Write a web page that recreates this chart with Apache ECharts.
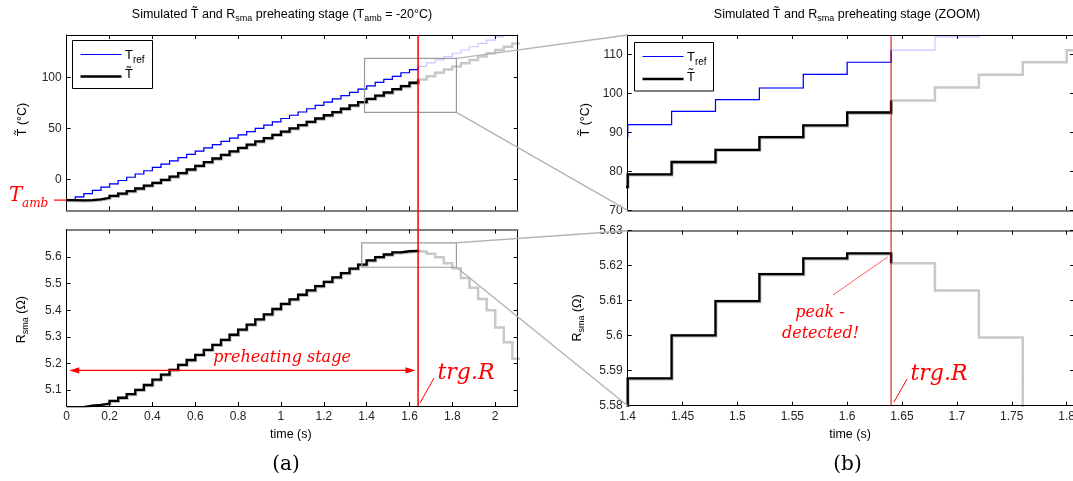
<!DOCTYPE html>
<html><head><meta charset="utf-8">
<script src="https://cdn.jsdelivr.net/npm/echarts@6/dist/echarts.min.js"></script>
<style>html,body{margin:0;padding:0;background:#fff}#c{width:1073px;height:481px}</style>
</head><body><div id="c"></div>
<script>
// ---- data (sample times in s, one sample every 40 ms) ----
const timeS = [0,0.04,0.08,0.12,0.16,0.2,0.24,0.28,0.32,0.36,0.4,0.44,0.48,0.52,0.56,0.6,0.64,0.68,0.72,0.76,0.8,0.84,0.88,0.92,0.96,1,1.04,1.08,1.12,1.16,1.2,1.24,1.28,1.32,1.36,1.4,1.44,1.48,1.52,1.56,1.6,1.64,1.68,1.72,1.76,1.8,1.84,1.88,1.92,1.96,2,2.04,2.08,2.12];
const tRef = [-20,-16.8,-13.6,-10.4,-7.2,-4,-0.8,2.4,5.6,8.8,12,15.2,18.4,21.6,24.8,28,31.2,34.4,37.6,40.8,44,47.2,50.4,53.6,56.8,60,63.2,66.4,69.6,72.8,76,79.2,82.4,85.6,88.8,92,95.4,98.4,101.4,104.9,108,111.1,114.5,117.6,120.8,124,127.2,130.4,133.6,136.8,140,143.2,146.4,146.4];
const tEst = [-20,-20.3,-20,-19.2,-17.8,-15.8,-13.6,-11.2,-8.6,-5.9,-3.1,-0.1,3.1,6.5,10,13.6,17.2,20.8,24.3,27.8,31.2,34.4,37.6,40.8,44,47.2,50.4,53.6,56.8,60,63.2,66.3,69.6,72.8,76,79.2,82.4,85.5,88.8,91.8,95.1,98.2,101.5,104.8,108,111.1,114.3,117.5,120.7,123.9,127.1,130.3,133.5,133.5];
const rSma = [5.034,5.036,5.041,5.044,5.049,5.059,5.071,5.085,5.101,5.119,5.139,5.158,5.176,5.195,5.213,5.232,5.251,5.27,5.289,5.308,5.327,5.346,5.366,5.385,5.405,5.424,5.4415,5.4585,5.475,5.491,5.507,5.524,5.54,5.557,5.572,5.5878,5.6001,5.6099,5.6176,5.6221,5.6235,5.6207,5.6129,5.5995,5.577,5.558,5.522,5.485,5.443,5.4,5.335,5.28,5.218,5.218];
const trigIndex = 41;       // sample at the trigger (peak detected)
const trigTime = 1.64;
const xTicksA = [0,0.2,0.4,0.6,0.8,1,1.2,1.4,1.6,1.8,2];
const yTicksA1 = [0,50,100];
const yTicksA2 = [5.1,5.2,5.3,5.4,5.5,5.6];
const xTicksB = [1.4,1.45,1.5,1.55,1.6,1.65,1.7,1.75,1.8];
const yTicksB1 = [70,80,90,100,110];
const yTicksB2 = [5.58,5.59,5.6,5.61,5.62,5.63];

// ---- chart ----
const chart = echarts.init(document.getElementById('c'), null, {renderer:'canvas'});
const SANS = '"Liberation Sans", Arial, Helvetica, sans-serif';
const SERIF = '"DejaVu Serif", serif';
const fmt = v => String(Math.round(v * 1000) / 1000);

function pairs(vals, count) {
  const out = [], n = count == null ? vals.length : count;
  for (let i = 0; i < n; i++) out.push([timeS[i], vals[i]]);
  return out;
}
function line(xi, yi, data, color, width, z, shadow) {
  const ls = {color, width, cap:'butt', join:'miter'};
  if (shadow) Object.assign(ls, {shadowColor:'#bdbdbd', shadowBlur:0, shadowOffsetX:0.8, shadowOffsetY:1});
  return {type:'line', xAxisIndex:xi, yAxisIndex:yi, data, step:'end', showSymbol:false, symbol:'none',
    silent:true, animation:false, clip:true, z, emphasis:{disabled:true}, lineStyle:ls};
}
function axis(grid, min, max, ticks, pos, labels, color, width) {
  return {type:'value', gridIndex:grid, min, max, position:pos, z:10,
    axisLine:{show:true, onZero:false, lineStyle:{color, width}},
    axisTick:{show:true, inside:true, length:4, customValues:ticks, lineStyle:{color:'#000', width:1}},
    axisLabel:{show:labels, customValues:ticks, formatter:fmt, margin:5, interval:0,
      fontFamily:SANS, fontSize:12, color:'#262626'},
    splitLine:{show:false}};
}
const G = '#7f7f7f';
const rA = [0, 2.105], rA1 = [-30, 141.9], rA2 = [5.04, 5.704];
const rB = [1.4, 1.8067], rB1 = [70, 115], rB2 = [5.58, 5.63];

const option = {
  animation:false,
  backgroundColor:'#fff',
  grid:[
    {left:66.7, top:35, width:451, height:175.3, containLabel:false, outerBoundsMode:'none'},
    {left:66.7, top:229.5, width:451, height:176.5, containLabel:false, outerBoundsMode:'none'},
    {left:627.7, top:35, width:446.3, height:175.3, containLabel:false, outerBoundsMode:'none'},
    {left:627.7, top:230.7, width:446.3, height:175, containLabel:false, outerBoundsMode:'none'}
  ],
  xAxis:[
    axis(0, rA[0], rA[1], xTicksA, 'bottom', false, G, 2),
    axis(0, rA[0], rA[1], xTicksA, 'top', false, '#000', 1),
    axis(1, rA[0], rA[1], xTicksA, 'bottom', true, '#000', 1),
    axis(1, rA[0], rA[1], xTicksA, 'top', false, G, 2),
    axis(2, rB[0], rB[1], xTicksB, 'bottom', false, G, 2),
    axis(2, rB[0], rB[1], xTicksB, 'top', false, '#000', 1),
    axis(3, rB[0], rB[1], xTicksB, 'bottom', true, '#000', 1),
    axis(3, rB[0], rB[1], xTicksB, 'top', false, G, 2)
  ],
  yAxis:[
    axis(0, rA1[0], rA1[1], yTicksA1, 'left', true, '#000', 1),
    axis(0, rA1[0], rA1[1], yTicksA1, 'right', false, '#000', 1),
    axis(1, rA2[0], rA2[1], yTicksA2, 'left', true, '#000', 1),
    axis(1, rA2[0], rA2[1], yTicksA2, 'right', false, '#000', 1),
    axis(2, rB1[0], rB1[1], yTicksB1, 'left', true, '#000', 1),
    axis(2, rB1[0], rB1[1], yTicksB1, 'right', false, '#000', 1),
    axis(3, rB2[0], rB2[1], yTicksB2, 'left', true, '#000', 1),
    axis(3, rB2[0], rB2[1], yTicksB2, 'right', false, '#000', 1)
  ],
  series:[]
};
const upto = trigIndex + 1;
[[0,0],[4,4]].forEach(([xi, yi]) => {
  option.series.push(line(xi, yi, pairs(tRef), '#c8c8ff', 1.2, 2));
  option.series.push(line(xi, yi, pairs(tEst), '#c8c8c8', 2.5, 3));
  option.series.push(line(xi, yi, pairs(tRef, upto), '#0000ff', 1.2, 4));
  option.series.push(line(xi, yi, pairs(tEst, upto), '#000000', 2.3, 5, true));
});
[[2,2],[6,6]].forEach(([xi, yi]) => {
  option.series.push(line(xi, yi, pairs(rSma), '#c8c8c8', 2.5, 3));
  option.series.push(line(xi, yi, pairs(rSma, upto), '#000000', 2.3, 5, true));
});
chart.setOption(option);

// ---- annotations ----
const P = (i, pt) => chart.convertToPixel({xAxisIndex:i, yAxisIndex:i}, pt);
const els = [];
const seg = (a, b, stroke, w, z) => els.push({type:'line', silent:true, z:z || 50,
  shape:{x1:a[0], y1:a[1], x2:b[0], y2:b[1]}, style:{stroke, lineWidth:w}});
const txt = (x, y, text, style, extra) => els.push(Object.assign({type:'text', x, y, z:100, silent:true,
  style:Object.assign({text, fill:'#000', align:'center', verticalAlign:'middle'}, style)}, extra || {}));

// zoom boxes and connectors
const bt1 = P(0, [1.39, 119]), bb1 = P(0, [1.819, 66.1]);
els.push({type:'rect', silent:true, z:40, shape:{x:bt1[0], y:bt1[1], width:bb1[0]-bt1[0], height:bb1[1]-bt1[1]},
  style:{fill:'none', stroke:'#9a9a9a', lineWidth:1.2}});
seg([bb1[0], bt1[1]], P(4, [rB[0], rB1[1]]), '#b4b4b4', 1.4, 40);
seg([bb1[0], bb1[1]], P(4, [rB[0], rB1[0]]), '#b4b4b4', 1.4, 40);
const bt2 = P(2, [1.377, 5.654]), bb2 = P(2, [1.819, 5.562]);
els.push({type:'rect', silent:true, z:40, shape:{x:bt2[0], y:bt2[1], width:bb2[0]-bt2[0], height:bb2[1]-bt2[1]},
  style:{fill:'none', stroke:'#9a9a9a', lineWidth:1.2}});
seg([bb2[0], bt2[1]], P(6, [rB[0], rB2[1]]), '#b4b4b4', 1.4, 40);
seg([bb2[0], bb2[1]], P(6, [rB[0], rB2[0]]), '#b4b4b4', 1.4, 40);

// trigger lines
const xl = P(0, [trigTime, 0])[0];
seg([xl, P(0, [trigTime, rA1[1]])[1]], [xl, P(2, [trigTime, rA2[0]])[1]], '#ff0000', 1.5, 60);
const xr = P(4, [trigTime, 80])[0];
seg([xr, P(4, [trigTime, rB1[1]])[1]], [xr, P(6, [trigTime, rB2[0]])[1]], '#d00000', 1, 60);

// preheating arrow
const aL = P(2, [0.012, 5.174]), aR = P(2, [1.628, 5.174]);
seg([aL[0] + 6, aL[1]], [aR[0] - 6, aR[1]], '#ff0000', 1.2, 60);
els.push({type:'polygon', silent:true, z:60, shape:{points:[[aL[0], aL[1]], [aL[0]+10, aL[1]-3.2], [aL[0]+10, aL[1]+3.2]]}, style:{fill:'#ff0000'}});
els.push({type:'polygon', silent:true, z:60, shape:{points:[[aR[0], aR[1]], [aR[0]-10, aR[1]-3.2], [aR[0]-10, aR[1]+3.2]]}, style:{fill:'#ff0000'}});

// T_amb marker
const ya = P(0, [0, -20])[1];
seg([54, ya], [P(0, [0, -20])[0], ya], '#ff0000', 1.2, 60);
txt(9, 196, 'T', {font:'italic 20px ' + SERIF, fill:'#ff0000', align:'left'});
txt(22, 204, 'amb', {font:'italic 12px ' + SERIF, fill:'#ff0000', align:'left'});

// red texts
txt(282, 358, 'preheating stage', {font:'italic 16px ' + SERIF, fill:'#ff0000'});
txt(466, 373, 'trg.R', {font:'italic 22px ' + SERIF, fill:'#ff0000'});
seg([420, 403], [434, 378], '#ff0000', 1, 60);
txt(939, 374, 'trg.R', {font:'italic 22px ' + SERIF, fill:'#ff0000'});
seg([894, 402], [907, 379], '#ff0000', 1, 60);
txt(820, 313, 'peak -', {font:'italic 16px ' + SERIF, fill:'#ff0000'});
txt(820.5, 334, 'detected!', {font:'italic 16px ' + SERIF, fill:'#ff0000'});
const pk = P(6, [1.637, 5.6225]);
seg([833, 295], pk, '#ff6060', 1, 60);

// panel letters
txt(286, 465, '(a)', {font:'20px ' + SERIF, fill:'#000'});
txt(847.5, 465, '(b)', {font:'20px ' + SERIF, fill:'#000'});

// rich text with subscripts: base aligned to the top, subscript to the bottom of a taller line
const base = (fs, lh) => ({fontFamily:SANS, fontSize:fs, fill:'#000', lineHeight:lh, verticalAlign:'top'});
const sub = (fs, lh) => ({fontFamily:SANS, fontSize:fs, fill:'#000', lineHeight:lh, verticalAlign:'bottom'});
const titleRich = {a:base(12.5, 13), s:sub(9, 15)};
txt(282, 16, '{a|Simulated T\u0303 and R}{s|sma}{a| preheating stage (T}{s|amb}{a| = -20°C)}', {rich:titleRich});
txt(847, 16, '{a|Simulated T\u0303 and R}{s|sma}{a| preheating stage (ZOOM)}', {rich:titleRich});

// axis names
txt(290.8, 434.5, 'time (s)', {font:'12.5px ' + SANS});
txt(850, 434.5, 'time (s)', {font:'12.5px ' + SANS});
txt(22.5, 119.5, 'T\u0303 (°C)', {font:'12.5px ' + SANS}, {rotation:Math.PI/2});
txt(586, 119.7, 'T\u0303 (°C)', {font:'12.5px ' + SANS}, {rotation:Math.PI/2});
const nameRich = {a:base(12.5, 13), s:sub(9, 15)};
txt(23, 319.7, '{a|R}{s|sma}{a| (Ω)}', {rich:nameRich}, {rotation:Math.PI/2});
txt(579, 318, '{a|R}{s|sma}{a| (Ω)}', {rich:nameRich}, {rotation:Math.PI/2});

// legends
function legend(x, y, w, h, yBlue, yBlack) {
  els.push({type:'rect', silent:true, z:90, shape:{x:x, y:y, width:w, height:h}, style:{fill:'#fff', stroke:'#000', lineWidth:1}});
  seg([x + 8, yBlue], [x + 49, yBlue], '#0000ff', 1.2, 95);
  seg([x + 8, yBlack], [x + 49, yBlack], '#000000', 2.5, 95);
  const legRich = {a:base(13, 14), s:sub(10, 15.5)};
  txt(x + 52.5, yBlue + 2.5, '{a|T}{s|ref}', {rich:legRich, align:'left'});
  txt(x + 52.5, yBlack - 2, 'T\u0303', {font:'13px ' + SANS, align:'left'});
}
legend(72.5, 40.5, 80, 48, 54.5, 76.5);
legend(634.5, 42.5, 79, 48.5, 56.5, 79);

chart.setOption({graphic:{elements:els}});
</script>
</body></html>
